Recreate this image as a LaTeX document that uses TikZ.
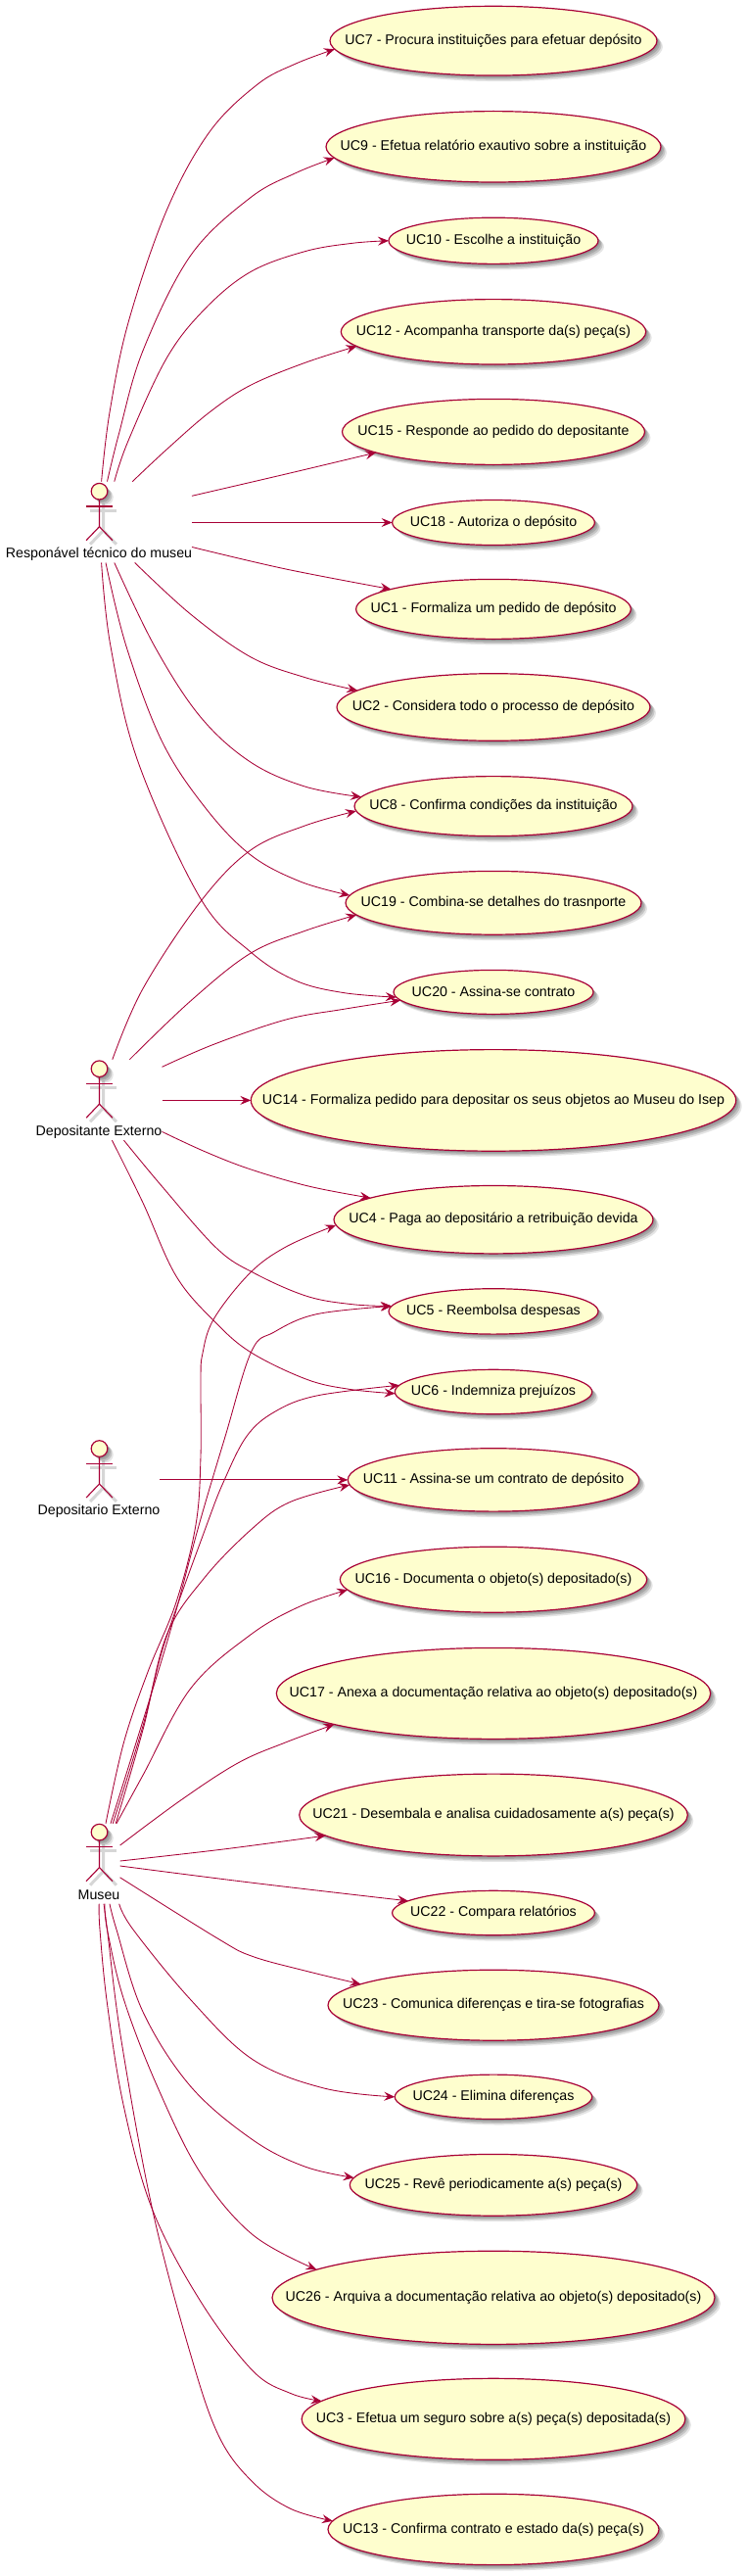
\documentclass[tikz,border=0pt]{standalone}
\usepackage{fontspec}
\setmainfont{Liberation Sans}
\usetikzlibrary{shapes.geometric,shadows,arrows.meta,calc}
\definecolor{umlline}{HTML}{A80036}
\definecolor{umlfill}{HTML}{FEFECE}
\tikzset{
  softshadow/.style={drop shadow={shadow xshift=1.5pt,shadow yshift=-1.5pt,fill=black,opacity=.12},drop shadow={shadow xshift=3pt,shadow yshift=-3pt,fill=black,opacity=.14},drop shadow={shadow xshift=4.5pt,shadow yshift=-4.5pt,fill=black,opacity=.14},drop shadow={shadow xshift=6pt,shadow yshift=-6pt,fill=black,opacity=.1}},
  uc/.style={ellipse,draw=umlline,fill=umlfill,line width=1.2pt,inner sep=0pt,outer sep=0pt,font=\fontsize{14.2}{16}\selectfont,softshadow},
  edge/.style={draw=umlline,line width=.85pt,-{Stealth[length=11pt,width=9pt,inset=4pt]}},
  head/.style={circle,draw=umlline,fill=umlfill,line width=1.2pt,minimum size=16.6pt,inner sep=0pt,outer sep=0pt,softshadow},
  limb/.style={draw=umlline,line width=1.1pt},
  limbshadow/.style={draw=black!16,line width=3pt},
  alabel/.style={font=\fontsize{14.2}{16}\selectfont,inner sep=0pt,text=black},
  cs/.style={smooth,tension=.6}
}
\newcommand{\umlactor}[4]{%
  \draw[limbshadow] (#2-9.4,#3+19.3) -- ++(26.8,0);
  \draw[limbshadow] (#2+4,#3+12.3) -- ++(0,27.7) -- ++(-13.4,14) ++(13.4,-14) -- ++(13.4,14);
  \node[head] (#1) at (#2,#3) {};
  \draw[limb] (#1.south) -- ++(0,27.7) coordinate (#1hip) -- ++(-13.4,14);
  \draw[limb] (#1hip) -- ++(13.4,14);
  \draw[limb] ($(#1)+(-13.4,15.3)$) -- ++(26.8,0);
  \node[alabel] (#1label) at (#2-.5,#3+64.3) {#4};
}
\begin{document}
\begin{tikzpicture}[x=1pt,y=-1pt]
\useasboundingbox (0,0) rectangle (763,2630);
\fill[white] (0,0) rectangle (763,2630);
\newcommand{\uc}[6]{\node[uc,minimum width=#4*2pt,minimum height=#5*2pt] (#1) at (504,#3) {\makebox[0pt][c]{\raisebox{.8pt}{#6}}};}
\uc{uc7}{504}{41.7}{167}{35.4}{UC7 - Procura instituições para efetuar depósito}
\uc{uc9}{504}{149.8}{171}{36.2}{UC9 - Efetua relatório exautivo sobre a instituição}
\uc{uc10}{504}{245.8}{107}{23.6}{UC10 - Escolhe a instituição}
\uc{uc12}{504}{338.8}{155.7}{33.2}{UC12 - Acompanha transporte da(s) peça(s)}
\uc{uc15}{504}{440.9}{154.5}{33.5}{UC15 - Responde ao pedido do depositante}
\uc{uc18}{504}{533.5}{103.4}{23}{UC18 - Autoriza o depósito}
\uc{uc1}{504}{621.9}{140.4}{30.5}{UC1 - Formaliza um pedido de depósito}
\uc{uc2}{504}{722}{160}{34.3}{UC2 - Considera todo o processo de depósito}
\uc{uc8}{504}{823.1}{142}{30.5}{UC8 - Confirma condições da instituição}
\uc{uc19}{504}{921.8}{151}{32.4}{UC19 - Combina-se detalhes do trasnporte}
\uc{uc20}{504}{1012.9}{102}{22.5}{UC20 - Assina-se contrato}
\uc{uc14}{504}{1123.4}{247.7}{51.8}{UC14 - Formaliza pedido para depositar os seus objetos ao Museu do Isep}
\uc{uc4}{504}{1245.2}{163}{34.7}{UC4 - Paga ao depositário a retribuição devida}
\uc{uc5}{504}{1338.9}{107}{23.2}{UC5 - Reembolsa despesas}
\uc{uc6}{504}{1421}{100.7}{22.7}{UC6 - Indemniza prejuízos}
\uc{uc11}{504}{1510.9}{148.7}{32.2}{UC11 - Assina-se um contrato de depósito}
\uc{uc16}{504}{1612.7}{156.7}{33.5}{UC16 - Documenta o objeto(s) depositado(s)}
\uc{uc17}{504}{1728.9}{221.7}{46.5}{UC17 - Anexa a documentação relativa ao objeto(s) depositado(s)}
\uc{uc21}{504}{1853}{198.3}{41.9}{UC21 - Desembala e analisa cuidadosamente a(s) peça(s)}
\uc{uc22}{504}{1953}{103.4}{22.7}{UC22 - Compara relatórios}
\uc{uc23}{504}{2047.2}{169}{36}{UC23 - Comunica diferenças e tira-se fotografias}
\uc{uc24}{504}{2140.8}{100.7}{22.7}{UC24 - Elimina diferenças}
\uc{uc25}{504}{2230.8}{146.7}{31.4}{UC25 - Revê periodicamente a(s) peça(s)}
\uc{uc26}{504}{2345.8}{226}{47.6}{UC26 - Arquiva a documentação relativa ao objeto(s) depositado(s)}
\uc{uc3}{504}{2469.8}{195.9}{41.5}{UC3 - Efetua um seguro sobre a(s) peça(s) depositada(s)}
\uc{uc13}{504}{2582.4}{169}{36.2}{UC13 - Confirma contrato e estado da(s) peça(s)}
\umlactor{a1}{101.5}{501.7}{Responável técnico do museu}
\umlactor{a2}{101.5}{1091.2}{Depositante Externo}
\umlactor{a3}{101.5}{1479}{Depositario Externo}
\umlactor{a4}{101.5}{1870.6}{Museu}
% a1
\draw[edge] plot[cs] coordinates {($(a1)+(2.1,-10.1)$) (112,421) (131.4,328) (170.3,214.6) (214,134.7) (262.8,86.3) (301.7,65.2) (uc7.183.4)};
\draw[edge] plot[cs] coordinates {($(a1)+(8,-10.1)$) (121.7,442) (146,358) (194.6,261) (255.5,202) (301.7,176.8) (uc9.184.8)};
\draw[edge] plot[cs] coordinates {($(a1)+(15.3,-10.1)$) (131,450) (170,366) (209,315.7) (255.5,277.8) (311.4,256.7) (360,248.3) (uc10.180)};
\draw[edge] plot[cs] coordinates {($(a1)+(33.8,-10.1)$) (170.3,458.8) (214,420.9) (255.5,393.5) (311.4,370.4) (uc12.186.5)};
\draw[edge] plot[cs] coordinates {($(a1)+(94.5,4.6)$) (292,484) (uc15.190.8)};
\draw[edge] (a1)++(94.5,31.8) -- (uc18.180);
\draw[edge] plot[cs] coordinates {($(a1)+(94.5,56.8)$) (292,581) (uc1.169.9)};
\draw[edge] plot[cs] coordinates {($(a1)+(36.2,72.8)$) (194.6,627) (255.5,670.5) (311.4,691.6) (uc2.173.1)};
\draw[edge] plot[cs] coordinates {($(a1)+(15.3,72.8)$) (158,660) (204.4,731.5) (255.5,777.8) (311.4,803) (uc8.176.9)};
\draw[edge] plot[cs] coordinates {($(a1)+(6.5,72.8)$) (129,660) (165.4,756.8) (209.2,824) (255.5,872.5) (306.6,900) (uc19.177.2)};
\draw[edge] plot[cs] coordinates {($(a1)+(2.1,72.8)$) (113,660) (141,777.8) (204.4,916.7) (255.5,971.5) (301.7,1001) (350.4,1013.5) (uc20.183.3)};
% a2
\draw[edge] plot[cs] coordinates {($(a2)+(13.3,-9.5)$) (146,1009.3) (204.4,921) (255.5,868.3) (311.4,843) (uc8.182.5)};
\draw[edge] plot[cs] coordinates {($(a2)+(30.9,-9.5)$) (194.6,1022) (255.5,973.5) (311.4,950.4) (uc19.185.2)};
\draw[edge] plot[cs] coordinates {($(a2)+(64,-1.9)$) (219,1066) (292,1041) (350.4,1030.4) (uc20.185.6)};
\draw[edge] (a2)++(64,32.2) -- (uc14.180);
\draw[edge] plot[cs] coordinates {($(a2)+(64,64.2)$) (209,1175.6) (255.5,1193.7) (316.3,1211.3) (uc4.170.1)};
\draw[edge] plot[cs] coordinates {($(a2)+(25,73)$) (165.5,1211.3) (221.4,1274.5) (260,1300) (313.3,1323.3) (360,1331.7) (uc5.177.7)};
\draw[edge] plot[cs] coordinates {($(a2)+(12.9,73)$) (146,1228) (180,1303) (220,1350) (256.7,1381) (313.3,1408.3) (356.7,1418.3) (uc6.181.1)};
% a3
\draw[edge] (a3)++(61.5,31.9) -- (uc11.180);
% a4
\draw[edge] plot[cs] coordinates {($(a4)+(6.5,-8.9)$) (126.5,1778.8) (150.9,1707.2) (180,1635.7) (200,1556.7) (205,1486.7) (205,1410) (206.7,1383) (218.3,1346.7) (255,1300) (292,1273) (uc4.182.2)};
\draw[edge] plot[cs] coordinates {($(a4)+(11.5,-8.9)$) (170.3,1677.7) (203.3,1556.7) (230,1466.7) (256.7,1380) (280,1360) (323.3,1341.7) (uc5.177.3)};
\draw[edge] plot[cs] coordinates {($(a4)+(13.8,-8.9)$) (146,1762) (168,1677.7) (210,1560) (228.3,1513) (251.7,1466.7) (280,1441.7) (323.3,1425) (uc6.176.3)};
\draw[edge] plot[cs] coordinates {($(a4)+(16.7,-8.9)$) (146,1766) (170.3,1669.3) (209.2,1610.4) (258.3,1560) (296.7,1533.3) (uc11.182.7)};
\draw[edge] plot[cs] coordinates {($(a4)+(17.5,-8.9)$) (146,1812.4) (194.6,1724) (255.5,1669.3) (306.6,1639.9) (uc16.184.5)};
\draw[edge] plot[cs] coordinates {($(a4)+(21.1,13.4)$) (185,1837.7) (243.3,1799.8) (292,1778.8) (uc17.191.4)};
\draw[edge] plot[cs] coordinates {($(a4)+(21.1,29.4)$) (228,1888) (uc21.187.2)};
\draw[edge] plot[cs] coordinates {($(a4)+(21.1,34.4)$) (260,1922.5) (uc22.172.6)};
\draw[edge] plot[cs] coordinates {($(a4)+(21.1,46.2)$) (223.8,1980) (258,1997.4) (311.4,2012) (uc23.171.1)};
\draw[edge] plot[cs] coordinates {($(a4)+(20.2,73.1)$) (136,1970) (194.6,2041.5) (258,2102.6) (331,2132) (uc24.180)};
\draw[edge] plot[cs] coordinates {($(a4)+(10.5,73.1)$) (119,1970) (146,2054) (194.6,2130) (258,2184.6) (311.4,2212) (uc25.177)};
\draw[edge] plot[cs] coordinates {($(a4)+(5.5,73.1)$) (109.5,1970) (126.5,2041.5) (160.6,2130) (204.4,2218) (258,2281.5) (uc26.171.8)};
\draw[edge] plot[cs] coordinates {($(a4)+(-.3,73.1)$) (102,1970) (109.5,2045.8) (126.5,2151) (155.7,2256) (204.4,2348.8) (258,2420.3) (296.8,2443.5) (uc3.174.3)};
\draw[edge] plot[cs] coordinates {($(a4)+(4.5,73.1)$) (109.5,1970) (124,2083.6) (155.7,2256) (194.6,2403.5) (223.8,2487.7) (258,2534) (296.8,2561.3) (uc13.177.1)};
\end{tikzpicture}
\end{document}
